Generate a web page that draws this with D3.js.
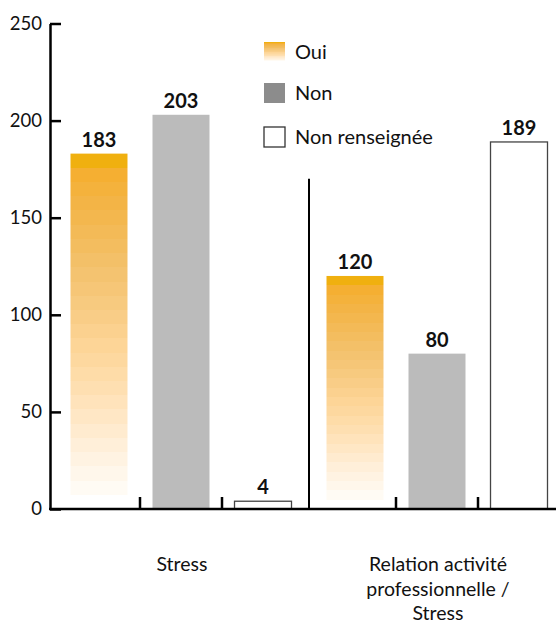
<!DOCTYPE html>
<html>
<head>
<meta charset="utf-8">
<script src="https://cdn.jsdelivr.net/npm/d3@7"></script>
<style>
  html, body { margin: 0; padding: 0; background: #fff; }
  svg { display: block; font-family: Lato, "Open Sans", sans-serif; }
</style>
</head>
<body>
<svg id="chart" width="556" height="625"></svg>
<script>
const categories = ["Stress", "Relation activité professionnelle / Stress"];
const categoryLines = [["Stress"], ["Relation activité", "professionnelle /", "Stress"]];
const seriesNames = ["Oui", "Non", "Non renseignée"];
const ouiValues = [183, 120];
const nonValues = [203, 80];
const nrValues = [4, 189];
const yTicks = [0, 50, 100, 150, 200, 250];

const W = 556, H = 625;
const margin = { left: 50, top: 23.5, bottom: 116 };
const baseY = H - margin.bottom; // 509

const svg = d3.select("#chart");

const y = d3.scaleLinear().domain([0, 250]).range([baseY, margin.top]);
const x0 = d3.scaleBand().domain(categories).range([49, 561]);
const x1 = d3.scaleBand().domain(seriesNames).range([21.5, 242.5]).paddingInner(0.305).paddingOuter(0);

// stepped orange gradient
const gradStops = [
  [0.00, "#F0B00F"], [0.05, "#F5AE30"], [0.15, "#F3B548"], [0.30, "#F3C068"],
  [0.45, "#F8CC85"], [0.55, "#FDD699"], [0.65, "#FEDEAE"], [0.75, "#FFE8C8"],
  [0.85, "#FFF2E0"], [0.94, "#FFFBF4"], [0.965, "#FFFFFF"], [1.00, "#FFFFFF"]
];
const colorAt = d3.scaleLinear().domain(gradStops.map(d => d[0])).range(gradStops.map(d => d[1])).interpolate(d3.interpolateRgb);
const defs = svg.append("defs");
const grad = defs.append("linearGradient").attr("id", "ouiGrad")
  .attr("x1", 0).attr("y1", 0).attr("x2", 0).attr("y2", 1);
const N = 25;
for (let i = 0; i < N; i++) {
  const c = colorAt(i === 0 ? 0 : (i + 0.5) / N);
  grad.append("stop").attr("offset", i / N).attr("stop-color", c);
  grad.append("stop").attr("offset", (i + 1) / N).attr("stop-color", c);
}

const fills = { "Oui": "url(#ouiGrad)", "Non": "#BBBBBB", "Non renseignée": "#FFFFFF" };

const rows = [];
categories.forEach((c, i) => {
  rows.push({ cat: c, s: "Oui", v: ouiValues[i] });
  rows.push({ cat: c, s: "Non", v: nonValues[i] });
  rows.push({ cat: c, s: "Non renseignée", v: nrValues[i] });
});

const bw = x1.bandwidth();
svg.append("g").selectAll("rect").data(rows).join("rect")
  .attr("x", d => x0(d.cat) + x1(d.s))
  .attr("y", d => y(d.v))
  .attr("width", bw)
  .attr("height", d => y(0) - y(d.v))
  .attr("fill", d => fills[d.s])
  .attr("stroke", d => d.s === "Non renseignée" ? "#444" : "none")
  .attr("stroke-width", 1.3);

svg.append("g").selectAll("text").data(rows).join("text")
  .attr("x", d => x0(d.cat) + x1(d.s) + bw / 2)
  .attr("y", d => y(d.v) - 7)
  .attr("text-anchor", "middle")
  .attr("font-weight", "bold")
  .attr("font-size", 20)
  .attr("fill", "#111")
  .text(d => d.v);

// Y axis
const yAxis = svg.append("g").attr("transform", `translate(${margin.left},0)`)
  .call(d3.axisLeft(y).tickValues(yTicks).tickSize(-11).tickSizeOuter(0).tickPadding(8));
yAxis.select(".domain").attr("stroke", "#000").attr("stroke-width", 2.5);
yAxis.selectAll(".tick line").attr("stroke", "#000").attr("stroke-width", 2.5);
yAxis.selectAll(".tick text").attr("font-size", 18.5).attr("fill", "#111").attr("font-family", "Lato, sans-serif");

// bottom line
svg.append("line").attr("x1", 49).attr("x2", W).attr("y1", baseY).attr("y2", baseY)
  .attr("stroke", "#000").attr("stroke-width", 2.5);

// small ticks between bars within groups
const smallTicks = [];
categories.forEach(c => {
  smallTicks.push((x0(c) + x1("Oui") + bw + x0(c) + x1("Non")) / 2);
  smallTicks.push((x0(c) + x1("Non") + bw + x0(c) + x1("Non renseignée")) / 2);
});
svg.append("g").selectAll("line").data(smallTicks).join("line")
  .attr("x1", d => d).attr("x2", d => d)
  .attr("y1", baseY - 12).attr("y2", baseY)
  .attr("stroke", "#000").attr("stroke-width", 2.5);

// separator between groups
const sepX = (x0(categories[0]) + x1("Non renseignée") + bw + x0(categories[1]) + x1("Oui")) / 2;
svg.append("line").attr("x1", sepX).attr("x2", sepX).attr("y1", y(170)).attr("y2", baseY)
  .attr("stroke", "#000").attr("stroke-width", 2);

// category labels
categories.forEach((c, i) => {
  const cx = x0(c) + x0.bandwidth() / 2 + 5;
  const t = svg.append("text").attr("text-anchor", "middle").attr("font-size", 19.5).attr("fill", "#111");
  categoryLines[i].forEach((ln, j) => {
    t.append("tspan").attr("x", cx).attr("y", 571 + j * 24.5).text(ln);
  });
});

// legend
const legend = svg.append("g").attr("transform", "translate(264,42)");
const legSwatch = { "Oui": "url(#ouiGrad)", "Non": "#8C8C8C", "Non renseignée": "#FFFFFF" };
seriesNames.forEach((s, i) => {
  const gy = [0, 41, 85][i];
  legend.append("rect").attr("x", 0).attr("y", gy).attr("width", 21).attr("height", 20)
    .attr("fill", legSwatch[s])
    .attr("stroke", s === "Non renseignée" ? "#333" : "none").attr("stroke-width", 1.3);
  legend.append("text").attr("x", 31).attr("y", gy + 17).attr("font-size", 20).attr("fill", "#111").text(s);
});
</script>
</body>
</html>
